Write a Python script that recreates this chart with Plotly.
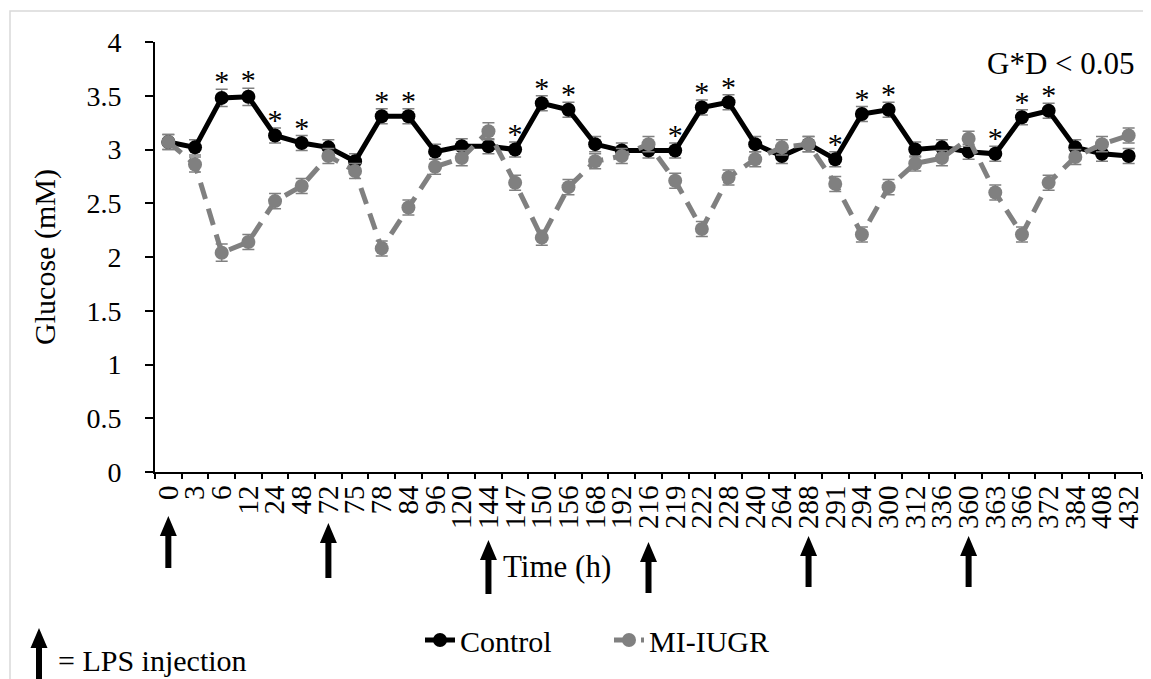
import plotly.graph_objects as go

# ---------------- data ----------------
times = ["0", "3", "6", "12", "24", "48", "72", "75", "78", "84", "96", "120",
         "144", "147", "150", "156", "168", "192", "216", "219", "222", "228",
         "240", "264", "288", "291", "294", "300", "312", "336", "360", "363",
         "366", "372", "384", "408", "432"]

control = [3.07, 3.02, 3.48, 3.49, 3.13, 3.06, 3.02, 2.89, 3.31, 3.31, 2.98, 3.03,
           3.03, 3.00, 3.43, 3.37, 3.05, 2.99, 2.99, 2.99, 3.39, 3.44, 3.05, 2.94,
           3.05, 2.91, 3.33, 3.37, 3.00, 3.02, 2.98, 2.96, 3.30, 3.36, 3.02, 2.96, 2.94]
control_se = [0.07, 0.07, 0.08, 0.08, 0.07, 0.07, 0.07, 0.07, 0.07, 0.07, 0.07, 0.07,
              0.07, 0.07, 0.07, 0.07, 0.07, 0.07, 0.07, 0.07, 0.07, 0.07, 0.07, 0.07,
              0.07, 0.07, 0.07, 0.07, 0.07, 0.07, 0.07, 0.07, 0.07, 0.07, 0.07, 0.07, 0.07]

miiugr = [3.07, 2.86, 2.04, 2.14, 2.52, 2.66, 2.94, 2.80, 2.08, 2.46, 2.84, 2.92,
          3.17, 2.69, 2.18, 2.65, 2.89, 2.94, 3.05, 2.71, 2.26, 2.74, 2.91, 3.02,
          3.05, 2.68, 2.21, 2.65, 2.87, 2.92, 3.10, 2.60, 2.21, 2.69, 2.93, 3.05, 3.13]
miiugr_se = [0.07, 0.07, 0.08, 0.07, 0.07, 0.07, 0.07, 0.07, 0.07, 0.07, 0.07, 0.07,
             0.08, 0.07, 0.07, 0.07, 0.07, 0.07, 0.07, 0.07, 0.07, 0.07, 0.07, 0.07,
             0.07, 0.07, 0.07, 0.07, 0.07, 0.07, 0.07, 0.07, 0.07, 0.07, 0.07, 0.07, 0.07]

sig_times = ["6", "12", "24", "48", "78", "84", "147", "150", "156", "219", "222",
             "228", "291", "294", "300", "363", "366", "372"]

lps_times = ["0", "72", "144", "216", "288", "360"]

y_ticks = [0, 0.5, 1, 1.5, 2, 2.5, 3, 3.5, 4]

# ---------------- layout constants ----------------
# The page body has an 8px margin, so the figure is drawn 8px smaller
# and all reference pixel positions are measured in page coordinates.
OFF = 8
W, H = 1151 - OFF, 679 - OFF
PLOT_X0, PLOT_X1, PLOT_Y0, PLOT_Y1 = 155, 1142, 42, 472   # page pixels
L, T = PLOT_X0 - OFF, PLOT_Y0 - OFF
R = W - (PLOT_X1 - OFF)
B = H - (PLOT_Y1 - OFF)
PW, PH = PLOT_X1 - PLOT_X0, PLOT_Y1 - PLOT_Y0
FONT = "Liberation Serif, Times New Roman, serif"
BLACK = "#000000"
GRAY = "#808080"


def px(x):
    return (x - PLOT_X0) / PW


def py(y):
    return (PLOT_Y1 - y) / PH


arrow_tip_px = [516, 523, 540, 542, 536, 536]
arrow_len_px = [52, 55, 54, 51, 51, 51]
ARROW_PATH = "M0,0 L8.5,-20 L3,-20 L3,-{L} L-3,-{L} L-3,-20 L-8.5,-20 Z"

fig = go.Figure()

fig.add_trace(go.Scatter(
    x=times, y=control, name="Control", mode="lines+markers",
    line=dict(color=BLACK, width=5),
    marker=dict(color=BLACK, size=14),
    error_y=dict(type="data", array=control_se, color=GRAY, thickness=1.5, width=6),
))
fig.add_trace(go.Scatter(
    x=times, y=miiugr, name="MI-IUGR", mode="lines+markers",
    line=dict(color=GRAY, width=5, dash="17px,10px"),
    marker=dict(color=GRAY, size=14),
    error_y=dict(type="data", array=miiugr_se, color=GRAY, thickness=1.5, width=6),
))

idx = {t: i for i, t in enumerate(times)}
sig_y = [control[idx[t]] + control_se[idx[t]] + 0.05 for t in sig_times]
fig.add_trace(go.Scatter(
    x=sig_times, y=sig_y, mode="text", text=["*"] * len(sig_times),
    textposition="middle center", textfont=dict(family=FONT, size=30, color=BLACK),
    showlegend=False, hoverinfo="skip",
))

shapes = []
n_cat = len(times)
for t, tip, ln in zip(lps_times, arrow_tip_px, arrow_len_px):
    shapes.append(dict(
        type="path", xref="paper", yref="paper",
        xsizemode="pixel", ysizemode="pixel",
        xanchor=(idx[t] + 0.5) / n_cat, yanchor=py(tip),
        path=ARROW_PATH.format(L=ln),
        fillcolor=BLACK, line=dict(width=0),
    ))
# legend arrow
shapes.append(dict(
    type="path", xref="paper", yref="paper",
    xsizemode="pixel", ysizemode="pixel",
    xanchor=px(39), yanchor=py(628),
    path=ARROW_PATH.format(L=60),
    fillcolor=BLACK, line=dict(width=0),
))
# outer border
shapes.append(dict(
    type="rect", xref="paper", yref="paper",
    x0=px(10), x1=px(1149), y0=py(11), y1=py(700),
    line=dict(color="#d9d9d9", width=1.5), fillcolor="rgba(0,0,0,0)",
))

annotations = [
    dict(text="Time (h)", x=px(557), y=py(566), xref="paper", yref="paper",
         showarrow=False, xanchor="center", yanchor="middle",
         font=dict(family=FONT, size=31, color=BLACK)),
    dict(text="G*D < 0.05", x=px(1137), y=py(63), xref="paper", yref="paper",
         showarrow=False, xanchor="right", yanchor="middle",
         font=dict(family=FONT, size=31, color=BLACK)),
    dict(text="= LPS injection", x=px(56), y=py(660), xref="paper", yref="paper",
         showarrow=False, xanchor="left", yanchor="middle",
         font=dict(family=FONT, size=30, color=BLACK)),
]

fig.update_layout(
    width=W, height=H,
    margin=dict(l=L, r=R, t=T, b=B, autoexpand=False),
    paper_bgcolor="white", plot_bgcolor="white",
    font=dict(family=FONT, size=28, color=BLACK),
    showlegend=True,
    legend=dict(orientation="h", x=px(420), y=py(640), xanchor="left", yanchor="middle",
                entrywidth=144, entrywidthmode="pixels",
                font=dict(family=FONT, size=30, color=BLACK), bgcolor="rgba(0,0,0,0)"),
    shapes=shapes,
    annotations=annotations,
    xaxis=dict(type="category", categoryorder="array", categoryarray=times,
               range=[-0.5, n_cat - 0.5], tickmode="array", tickvals=times, ticktext=times,
               showline=True, linecolor=BLACK, linewidth=2,
               ticks="outside", tickson="boundaries", ticklen=5, tickwidth=1.5,
               tickcolor=BLACK, tickangle=-90, showgrid=False, zeroline=False,
               tickfont=dict(family=FONT, size=29, color=BLACK)),
    yaxis=dict(range=[0, 4], tickvals=y_ticks, showline=True, linecolor=BLACK,
               linewidth=2, ticks="outside", ticklen=8, tickwidth=2, tickcolor=BLACK,
               showgrid=False, zeroline=False, ticklabelstandoff=18,
               tickfont=dict(family=FONT, size=28, color=BLACK),
               title=dict(text="Glucose (mM)", standoff=22,
                          font=dict(family=FONT, size=30, color=BLACK))),
)

fig.write_html("out.html")
